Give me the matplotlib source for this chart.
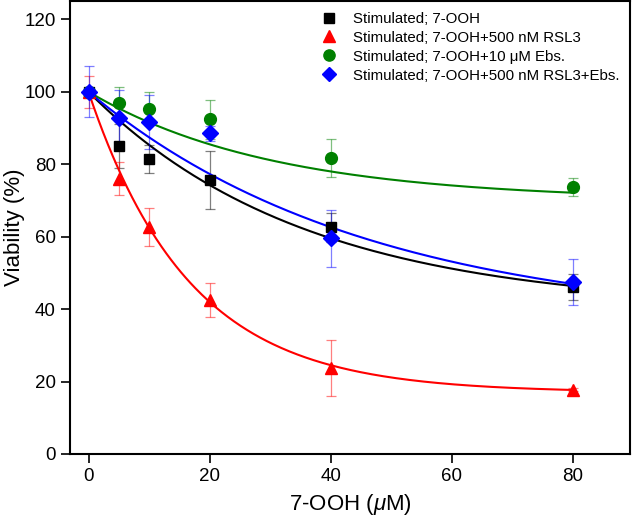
import matplotlib.pyplot as plt
import numpy as np

plt.rcParams["font.family"] = ["Liberation Sans", "DejaVu Sans"]
plt.rcParams["mathtext.fontset"] = "custom"
plt.rcParams["mathtext.rm"] = "Liberation Sans"
plt.rcParams["mathtext.it"] = "Liberation Sans:italic"

conc = [0, 5, 10, 20, 40, 80]

labels = [
    "Stimulated; 7-OOH",
    "Stimulated; 7-OOH+500 nM RSL3",
    "Stimulated; 7-OOH+10 \u03bcM Ebs.",
    "Stimulated; 7-OOH+500 nM RSL3+Ebs.",
]
colors = ["black", "red", "green", "blue"]
markers = ["s", "^", "o", "D"]
msizes = [7, 9, 8.5, 8]

# mean viability (%) per concentration
black_mean = [100, 85.1, 81.4, 75.6, 62.6, 46.0]
red_mean = [100, 76.0, 62.6, 42.5, 23.8, 17.8]
green_mean = [100, 96.9, 95.3, 92.4, 81.7, 73.6]
blue_mean = [100, 92.8, 91.6, 88.5, 59.5, 47.5]

# standard deviation
black_err = [1.0, 6.0, 3.8, 8.0, 4.0, 3.6]
red_err = [4.5, 4.5, 5.2, 4.8, 7.8, 0.5]
green_err = [1.0, 4.3, 4.6, 5.4, 5.2, 2.5]
blue_err = [7.0, 7.8, 7.5, 2.0, 7.8, 6.4]

# one-phase decay fits: plateau, rate constant
fit_plateau = [40.0, 17.0, 70.0, 35.6]
fit_k = [0.028, 0.060, 0.033, 0.0217]

means = [black_mean, red_mean, green_mean, blue_mean]
errs = [black_err, red_err, green_err, blue_err]

fig = plt.figure(figsize=(6.34, 5.24), dpi=100)
ax = fig.add_axes([0.110, 0.1336, 0.884, 0.864])

xs = np.linspace(0, 80, 300)
for i in range(4):
    fit = fit_plateau[i] + (100 - fit_plateau[i]) * np.exp(-fit_k[i] * xs)
    ax.plot(xs, fit, color=colors[i], lw=1.5, zorder=2 + i)
    ax.errorbar(conc, means[i], yerr=errs[i], fmt="none", ecolor=colors[i],
                elinewidth=0.9, capsize=3.6, capthick=0.9, alpha=0.5,
                zorder=2 + i)
    ax.plot(conc, means[i], linestyle="none", marker=markers[i],
            ms=msizes[i], color=colors[i], label=labels[i], zorder=6 + i)

ax.set_xlim(-3.1, 89.5)
ax.set_ylim(0, 125)
ax.set_xticks([0, 20, 40, 60, 80])
ax.set_yticks([0, 20, 40, 60, 80, 100, 120])
ax.tick_params(direction="out", length=6.5, width=1.2, labelsize=13.5,
               top=False, right=False)
for s in ax.spines.values():
    s.set_linewidth(1.5)

ax.set_xlabel("7-OOH ($\\mu$M)", fontsize=16)
ax.set_ylabel("Viability (%)", fontsize=16)
ax.xaxis.set_label_coords(0.5, -0.085)
ax.yaxis.set_label_coords(-0.080, 0.5)

ax.legend(loc="upper right", frameon=False, fontsize=10.8, handletextpad=0.6,
          labelspacing=0.33, borderaxespad=0.3, markerscale=0.95)

fig.savefig("out.png", dpi=100)
